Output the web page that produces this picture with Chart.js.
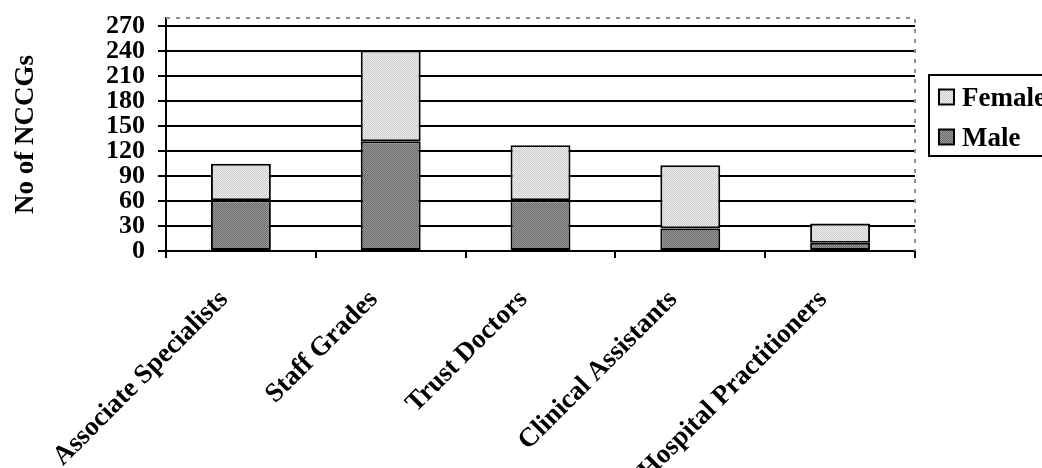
<!DOCTYPE html>
<html>
<head>
<meta charset="utf-8">
<script src="https://cdn.jsdelivr.net/npm/chart.js@4/dist/chart.umd.min.js"></script>
<style>
html,body{margin:0;padding:0;background:#fff;}
#wrap{width:1042px;height:468px;position:relative;}
</style>
</head>
<body>
<div id="wrap"><canvas id="c" width="1042" height="468"></canvas></div>
<script>
const categories = ["Associate Specialists", "Staff Grades", "Trust Doctors", "Clinical Assistants", "Hospital Practitioners"];
const maleValues = [61, 132, 61, 27, 10];
const femaleValues = [44, 109, 66, 76, 23];
const yTicks = [0, 30, 60, 90, 120, 150, 180, 210, 240, 270];
const yTitle = "No of NCCGs";

const FONT = '"Liberation Serif", "Times New Roman", serif';

function checker(c1, c2) {
  const p = document.createElement('canvas');
  p.width = 2; p.height = 2;
  const g = p.getContext('2d');
  g.fillStyle = c1; g.fillRect(0, 0, 2, 2);
  g.fillStyle = c2; g.fillRect(0, 0, 1, 1); g.fillRect(1, 1, 1, 1);
  return document.getElementById('c').getContext('2d').createPattern(p, 'repeat');
}
const malePat = checker('#999999', '#6a6a6a');
const femalePat = checker('#eeeeee', '#cccccc');

const frame = {
  id: 'frame',
  afterDraw(chart) {
    const ctx = chart.ctx, a = chart.chartArea;
    ctx.save();
    ctx.strokeStyle = '#909090';
    ctx.lineWidth = 2;
    ctx.setLineDash([4, 6]);
    ctx.beginPath();
    ctx.moveTo(a.left, a.top);
    ctx.lineTo(a.right, a.top);
    ctx.lineTo(a.right, a.bottom);
    ctx.stroke();
    ctx.setLineDash([]);
    // legend
    ctx.lineWidth = 2;
    ctx.strokeStyle = '#000';
    ctx.fillStyle = '#fff';
    ctx.fillRect(929, 75, 120, 81);
    ctx.strokeRect(929, 75, 120, 81);
    const items = chart.data.datasets.slice().reverse();
    items.forEach((ds, i) => {
      const cy = 97 + i * 40;
      ctx.fillStyle = ds.backgroundColor;
      ctx.fillRect(939, cy - 7.5, 15, 15);
      ctx.lineWidth = 2;
      ctx.strokeRect(939, cy - 7.5, 15, 15);
      ctx.fillStyle = '#000';
      ctx.font = 'bold 27px ' + FONT;
      ctx.textBaseline = 'alphabetic';
      ctx.textAlign = 'left';
      ctx.fillText(ds.label, 962, cy + 9);
    });
    ctx.restore();
  }
};

new Chart(document.getElementById('c'), {
  type: 'bar',
  data: {
    labels: categories,
    datasets: [
      { label: 'Male', data: maleValues, backgroundColor: malePat, borderColor: '#000', borderWidth: 2, borderSkipped: false },
      { label: 'Female', data: femaleValues, backgroundColor: femalePat, borderColor: '#000', borderWidth: 2, borderSkipped: false }
    ]
  },
  options: {
    responsive: false,
    animation: false,
    devicePixelRatio: 1,
    layout: { padding: { left: 0, right: 127, top: 18, bottom: 0 } },
    plugins: { legend: { display: false }, tooltip: { enabled: false } },
    datasets: { bar: { categoryPercentage: 1, barPercentage: 0.4 } },
    scales: {
      x: {
        stacked: true,
        grid: { drawOnChartArea: false, drawTicks: true, tickLength: 7, color: '#000', lineWidth: 2, offset: true },
        border: { color: '#000', width: 2 },
        ticks: { autoSkip: false, minRotation: 45, maxRotation: 45, color: '#000', padding: 26, labelOffset: -17,
                 font: { family: FONT, size: 27, weight: 'bold' } },
        afterFit(s) { s.height = 217; s.paddingLeft = 0; s.paddingRight = 0; }
      },
      y: {
        stacked: true,
        min: 0,
        max: 280,
        afterBuildTicks(s) { s.ticks = yTicks.map(v => ({ value: v })); },
        grid: { color: '#000', lineWidth: 2, tickLength: 8, drawTicks: true },
        border: { color: '#000', width: 2 },
        ticks: { autoSkip: false, color: '#000', padding: 13, font: { family: FONT, size: 26, weight: 'bold' } },
        title: { display: true, text: yTitle, color: '#000', padding: { top: 10, bottom: 0 },
                 font: { family: FONT, size: 27, weight: 'bold' } },
        afterFit(s) { s.width = 166; s.paddingTop = 0; s.paddingBottom = 0; }
      }
    }
  },
  plugins: [frame]
});
</script>
</body>
</html>
